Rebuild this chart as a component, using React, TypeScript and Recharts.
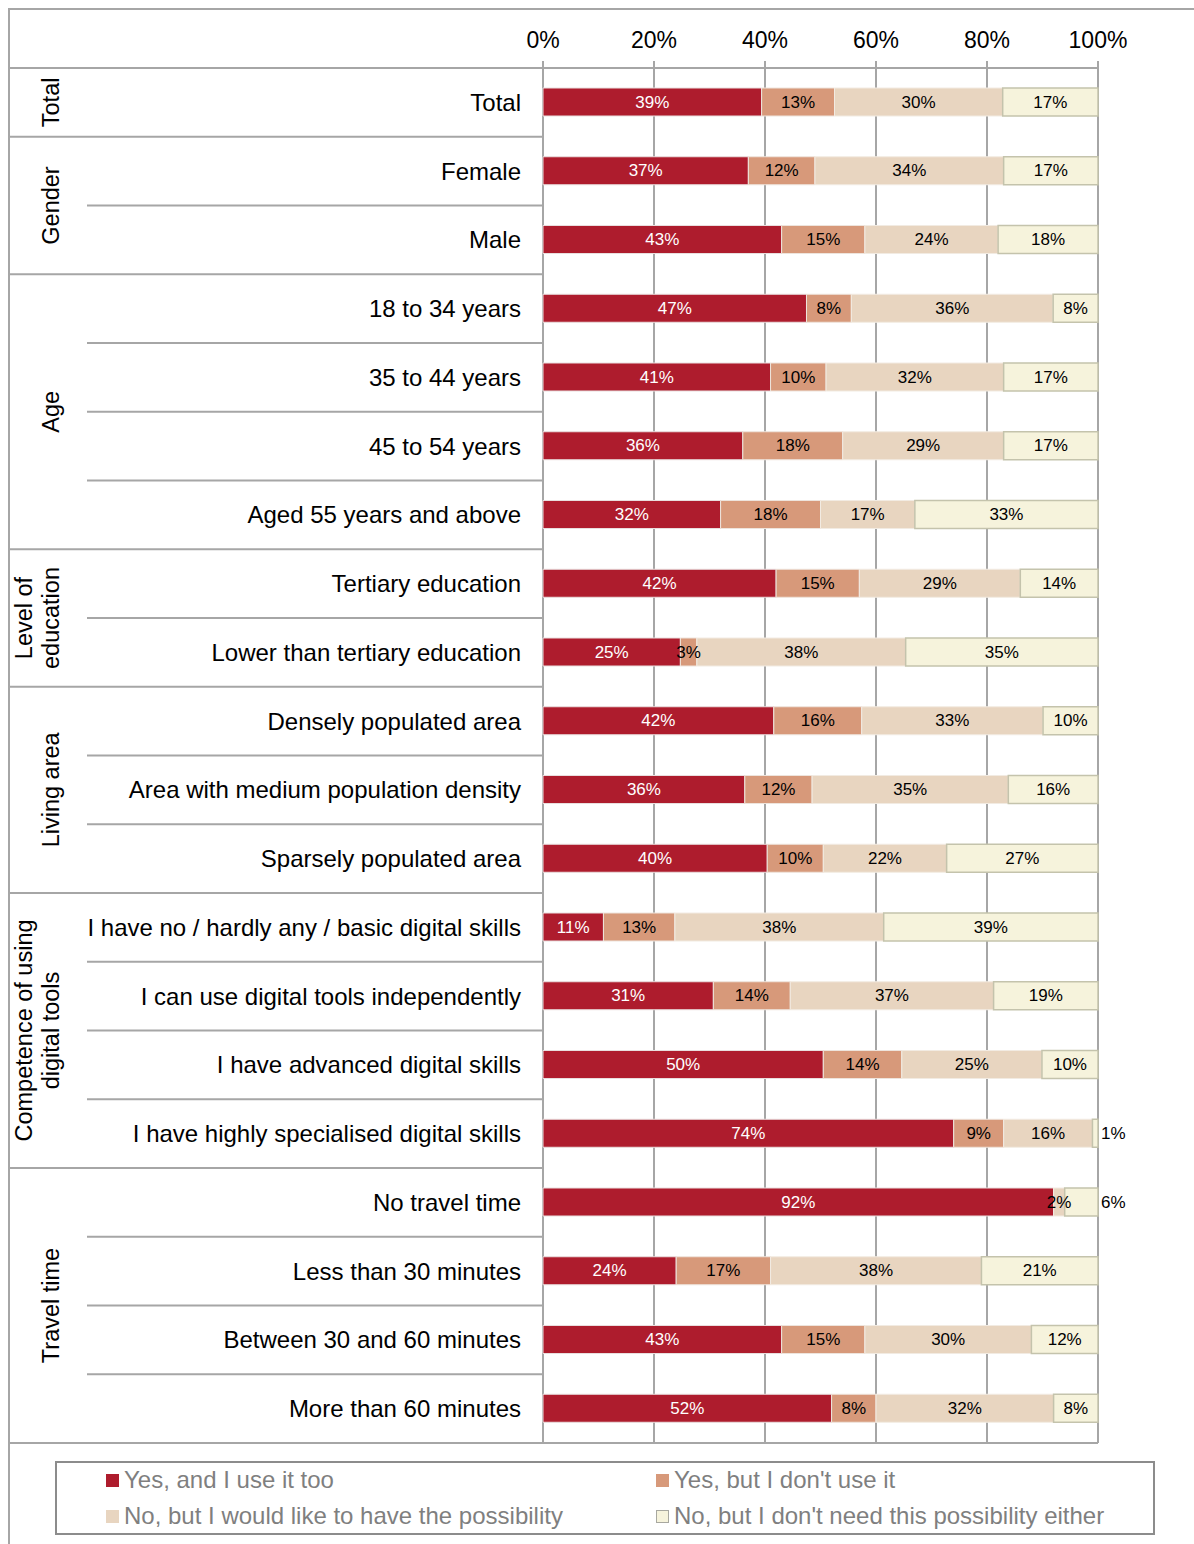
import React from 'react'
import { BarChart, Bar, XAxis, YAxis, CartesianGrid } from 'recharts'

const categories = [
  'Total',
  'Female',
  'Male',
  '18 to 34 years',
  '35 to 44 years',
  '45 to 54 years',
  'Aged 55 years and above',
  'Tertiary education',
  'Lower than tertiary education',
  'Densely populated area',
  'Area with medium population density',
  'Sparsely populated area',
  'I have no / hardly any / basic digital skills',
  'I can use digital tools independently',
  'I have advanced digital skills',
  'I have highly specialised digital skills',
  'No travel time',
  'Less than 30 minutes',
  'Between 30 and 60 minutes',
  'More than 60 minutes'
]

const yesUse = [39, 37, 43, 47, 41, 36, 32, 42, 25, 42, 36, 40, 11, 31, 50, 74, 92, 24, 43, 52]
const yesNotUse = [13, 12, 15, 8, 10, 18, 18, 15, 3, 16, 12, 10, 13, 14, 14, 9, 0, 17, 15, 8]
const noWouldLike = [30, 34, 24, 36, 32, 29, 17, 29, 38, 33, 35, 22, 38, 37, 25, 16, 2, 38, 30, 32]
const noNotNeed = [17, 17, 18, 8, 17, 17, 33, 14, 35, 10, 16, 27, 39, 19, 10, 1, 6, 21, 12, 8]

const percentTicks = [0, 20, 40, 60, 80, 100]

const groupNames = [
  ['Total'],
  ['Gender'],
  ['Age'],
  ['Level of', 'education'],
  ['Living area'],
  ['Competence of using', 'digital tools'],
  ['Travel time']
]
const groupSizes = [1, 2, 4, 2, 3, 4, 4]

const seriesNames = [
  'Yes, and I use it too',
  "Yes, but I don't use it",
  'No, but I would like to have the possibility',
  "No, but I don't need this possibility either"
]
const seriesKeys = ['yesUse', 'yesNotUse', 'noWouldLike', 'noNotNeed']
const seriesColors = ['#ae1c2d', '#d7997a', '#e8d5c0', '#f6f3dc']

const W = 1194
const H = 1544
const M = { top: 9, right: 96, bottom: 101, left: 10 }
const AXIS_W = 533
const X_H = 59
const PLOT_LEFT = M.left + AXIS_W
const PLOT_RIGHT = W - M.right
const BAND = (H - M.top - X_H - M.bottom) / categories.length
const GRID = '#a6a6a6'
const FONT = '"Liberation Sans", Arial, Helvetica, sans-serif'

const rows = categories.map((label, i) => ({
  label,
  yesUse: yesUse[i],
  yesNotUse: yesNotUse[i],
  noWouldLike: noWouldLike[i],
  noNotNeed: noNotNeed[i]
}))

const groupStart = groupSizes.map((_, g) => groupSizes.slice(0, g).reduce((a, b) => a + b, 0))

function CategoryTick({ y, payload }: any) {
  const i = categories.indexOf(payload.value)
  const g = groupStart.findIndex((s, k) => i >= s && i < s + groupSizes[k])
  const first = i === groupStart[g]
  const lastInGroup = i === groupStart[g] + groupSizes[g] - 1
  const lastRow = i === categories.length - 1
  const top = y - BAND / 2
  const bottom = y + BAND / 2
  const lines = groupNames[g]
  const cy = top + (groupSizes[g] * BAND) / 2
  return (
    <g>
      <text x={PLOT_LEFT - 22} y={y} textAnchor="end" dominantBaseline="central" fontSize={24} fill="#000" fontFamily={FONT}>
        {payload.value}
      </text>
      {i === 0 && <line x1={M.left} x2={PLOT_LEFT} y1={top} y2={top} stroke={GRID} strokeWidth={2} />}
      <line
        x1={lastInGroup ? M.left : 87}
        x2={lastRow ? PLOT_RIGHT : PLOT_LEFT}
        y1={bottom}
        y2={bottom}
        stroke={GRID}
        strokeWidth={2}
      />
      {first &&
        lines.map((t, j) => {
          const x = 51 - (lines.length - 1 - j) * 27
          return (
            <text
              key={t}
              x={x}
              y={cy}
              transform={`rotate(-90, ${x}, ${cy})`}
              textAnchor="middle"
              dominantBaseline="central"
              fontSize={23.5}
              fill="#000"
              fontFamily={FONT}
            >
              {t}
            </text>
          )
        })}
    </g>
  )
}

function PercentTick({ x, payload }: any) {
  return (
    <text x={x} y={48} textAnchor="middle" fontSize={23} fill="#000" fontFamily={FONT}>
      {Math.round(payload.value * 100)}%
    </text>
  )
}

// last segment draws its own rect plus the labels of the whole row, so labels sit above every segment
function LastSegment(props: any) {
  const { x, y, width, height, payload, background } = props
  const vals = seriesKeys.map((k) => payload[k] as number)
  const total = vals.reduce((a, b) => a + b, 0)
  const last = vals[vals.length - 1]
  const full = background && background.width ? background.width : (width * total) / last
  const left = background && background.width ? background.x : x + width - full
  let cum = 0
  const labels = vals.map((v, k) => {
    const start = left + (full * cum) / total
    const w = (full * v) / total
    cum += v
    if (v <= 0) return null
    const outside = k === vals.length - 1 && v < 8
    return (
      <text
        key={k}
        x={outside ? start + w + 3 : start + w / 2}
        y={y + height / 2}
        textAnchor={outside ? 'start' : 'middle'}
        dominantBaseline="central"
        fontSize={17}
        fill={k === 0 ? '#fff' : '#000'}
        fontFamily={FONT}
      >
        {v}%
      </text>
    )
  })
  return (
    <g>
      <rect x={x} y={y} width={width} height={height} fill={seriesColors[3]} stroke="#c4c3ac" strokeWidth={1.5} />
      {labels}
    </g>
  )
}

export default function App() {
  return (
    <div style={{ position: 'relative', width: W, height: H, fontFamily: FONT, background: '#fff' }}>
      <style>{'body{margin:0}'}</style>
      <div
        style={{
          position: 'absolute',
          left: 8,
          top: 8,
          right: 0,
          bottom: 0,
          borderTop: `2px solid ${GRID}`,
          borderLeft: `2px solid ${GRID}`
        }}
      />
      <div style={{ position: 'absolute', left: 0, top: 0 }}>
        <BarChart width={W} height={H} data={rows} layout="vertical" stackOffset="expand" margin={M} barSize={28}>
          <CartesianGrid horizontal={false} vertical stroke={GRID} strokeWidth={2} />
          <XAxis
            type="number"
            orientation="top"
            domain={[0, 1]}
            ticks={percentTicks.map((t) => t / 100)}
            height={X_H}
            tickSize={7}
            axisLine={{ stroke: GRID, strokeWidth: 2 }}
            tickLine={{ stroke: GRID, strokeWidth: 2 }}
            tick={<PercentTick />}
          />
          <YAxis
            type="category"
            dataKey="label"
            width={AXIS_W}
            interval={0}
            axisLine={false}
            tickLine={false}
            tick={<CategoryTick />}
          />
          <Bar dataKey="yesUse" stackId="a" fill={seriesColors[0]} stroke="#e9dede" strokeWidth={1} isAnimationActive={false} />
          <Bar dataKey="yesNotUse" stackId="a" fill={seriesColors[1]} stroke="#eee4dc" strokeWidth={1} isAnimationActive={false} />
          <Bar dataKey="noWouldLike" stackId="a" fill={seriesColors[2]} stroke="#f2ebe2" strokeWidth={1} isAnimationActive={false} />
          <Bar dataKey="noNotNeed" stackId="a" fill={seriesColors[3]} shape={<LastSegment />} isAnimationActive={false} />
        </BarChart>
      </div>
      <div
        style={{
          position: 'absolute',
          left: 55,
          top: 1461,
          width: 1100,
          height: 74,
          boxSizing: 'border-box',
          border: '2px solid #8c8c8c'
        }}
      />
      {seriesNames.map((name, k) => (
        <div
          key={name}
          style={{
            position: 'absolute',
            left: k % 2 === 0 ? 106 : 656,
            top: (k < 2 ? 1480 : 1516) - 15,
            height: 30,
            display: 'flex',
            alignItems: 'center',
            fontSize: 24,
            color: '#7f7f7f',
            whiteSpace: 'nowrap'
          }}
        >
          <span
            style={{
              display: 'inline-block',
              width: 13,
              height: 13,
              boxSizing: 'border-box',
              background: seriesColors[k],
              border: k === 3 ? '1px solid #a8a8a0' : 'none',
              marginRight: 5
            }}
          />
          {name}
        </div>
      ))}
    </div>
  )
}
